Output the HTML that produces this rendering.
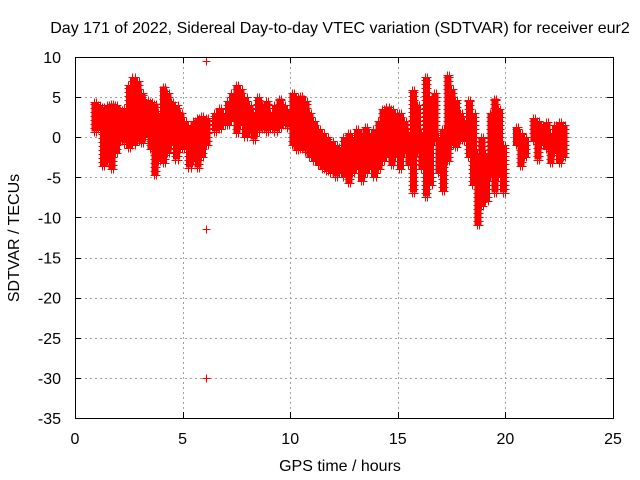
<!DOCTYPE html>
<html><head><meta charset="utf-8"><style>
html,body{margin:0;padding:0;background:#fff;}
svg{display:block;font-family:"Liberation Sans",sans-serif;font-size:16px;}
</style></head><body>
<svg id="chart" width="640" height="480" xmlns="http://www.w3.org/2000/svg">
<text x="340" y="33" text-anchor="middle">Day 171 of 2022, Sidereal Day-to-day VTEC variation (SDTVAR) for receiver eur2</text>
<text x="340" y="471" text-anchor="middle">GPS time / hours</text>
<text transform="translate(19,238) rotate(-90)" text-anchor="middle">SDTVAR / TECUs</text>
<g id="grid" shape-rendering="crispEdges"></g>
<g id="axes"></g>
<g id="marks" shape-rendering="crispEdges"></g>
<rect x="75.5" y="57.5" width="538" height="361" fill="none" stroke="#000" shape-rendering="crispEdges"/>
</svg>
<script>
const xTicks = [0,5,10,15,20,25];
const yTicks = [10,5,0,-5,-10,-15,-20,-25,-30,-35];
const hours = [0.9,1.1,1.3,1.5,1.7,1.9,2.1,2.3,2.5,2.7,2.9,3.1,3.3,3.5,3.7,3.9,4.1,4.3,4.5,4.7,4.9,5.1,5.3,5.5,5.7,5.9,6.1,6.5,6.7,6.9,7.1,7.3,7.5,7.7,7.9,8.1,8.3,8.5,8.7,8.9,9.1,9.3,9.5,9.7,9.9,10.1,10.3,10.5,10.7,10.9,11.1,11.3,11.5,11.7,11.9,12.1,12.3,12.5,12.7,12.9,13.1,13.3,13.5,13.7,13.9,14.1,14.3,14.5,14.7,14.9,15.1,15.3,15.5,15.7,15.9,16.1,16.3,16.5,16.7,16.9,17.1,17.3,17.5,17.7,17.9,18.1,18.3,18.5,18.7,18.9,19.1,19.3,19.5,19.7,19.9,20.5,20.7,20.9,21.3,21.5,21.7,21.9,22.1,22.3,22.5,22.7];
const highVals = [4.4,4.0,3.8,4.0,4.2,4.0,3.4,3.6,6.5,7.5,7.0,5.5,4.6,4.4,4.2,3.0,6.3,5.5,4.4,4.0,3.0,2.0,1.5,2.0,2.4,2.6,2.4,3.0,3.6,3.0,4.5,5.5,6.5,6.0,5.0,4.0,3.0,5.0,4.0,4.5,3.0,4.0,4.8,4.0,3.5,5.5,5.0,5.2,4.5,3.0,2.0,1.0,0.5,0.0,-0.5,-1.0,-1.2,0.0,0.5,0.0,1.0,0.5,1.3,0.5,1.0,2.0,3.5,3.8,3.5,3.0,3.0,2.0,0.5,5.9,4.0,0.5,7.5,5.0,5.5,0.0,1.0,7.7,6.0,4.6,3.0,2.0,4.6,3.0,-2.0,0.0,-2.0,3.0,4.8,3.5,-1.0,1.3,0.5,0.0,2.4,2.0,1.5,1.9,0.5,1.5,1.9,1.5];
const lowVals = [0.7,1.0,-3.6,-3.0,-4.0,-2.0,-0.5,-0.8,-1.4,-1.0,-0.5,-0.7,0.0,-1.5,-4.7,-3.0,-3.2,-2.0,-1.0,-2.8,-1.5,-1.5,-3.8,-3.0,-3.8,-2.5,-1.0,0.7,1.0,1.5,1.5,2.0,0.5,1.5,0.0,0.5,-0.3,0.7,1.0,0.7,1.0,0.7,1.1,1.5,1.2,-1.0,-1.6,-1.5,-1.8,-2.5,-3.0,-3.5,-4.0,-4.2,-4.5,-4.9,-4.5,-5.0,-5.7,-4.5,-4.0,-5.5,-4.5,-4.0,-5.0,-4.0,-3.0,-2.5,-3.5,-2.5,-4.0,-2.0,-3.5,-6.9,-2.0,-4.0,-7.4,-6.0,-0.5,-4.5,-6.7,-3.0,-1.0,-1.2,-0.3,-0.5,-2.5,-6.0,-11.0,-8.6,-8.0,-5.0,-6.9,-5.0,-6.9,-1.0,-3.6,-2.5,-0.5,-2.8,-1.0,-1.5,-3.2,-2.0,-3.2,-2.5];
const outlierHours = [6.1,6.1,6.1];
const outlierVals = [9.5,-11.5,-30];

const NS='http://www.w3.org/2000/svg';
const X0=75,X1=613,Y0=418,Y1=57;
function xs(t){return X0+(t-0)/(25-0)*(X1-X0);}
function ys(v){return Y0-(v+35)/(45)*(Y0-Y1);}
function mk(tag,attrs,parent){const e=document.createElementNS(NS,tag);for(const k in attrs)e.setAttribute(k,attrs[k]);parent.appendChild(e);return e;}
const grid=document.getElementById('grid'),axes=document.getElementById('axes'),marks=document.getElementById('marks');
function px(v){return Math.round(v)+0.5;}
xTicks.forEach(t=>{
  const x=px(xs(t));
  if(t>0&&t<25){const g=mk('line',{x1:x,x2:x,y1:Y1,y2:Y0,stroke:'#a0a0a0','stroke-dasharray':'2,3'},grid);
  
  }
  mk('line',{x1:x,x2:x,y1:Y0,y2:Y0-6,stroke:'#000'},axes);
  mk('line',{x1:x,x2:x,y1:Y1,y2:Y1+6,stroke:'#000'},axes);
  const l=mk('text',{x:xs(t),y:444,'text-anchor':'middle'},axes);l.textContent=t;
  
  
});
yTicks.forEach(v=>{
  const y=px(ys(v));
  if(v<10&&v>-35){const g=mk('line',{x1:X0,x2:X1,y1:y,y2:y,stroke:'#a0a0a0','stroke-dasharray':'2,3'},grid);
  
  }
  mk('line',{x1:X0,x2:X0+6,y1:y,y2:y,stroke:'#000'},axes);
  mk('line',{x1:X1,x2:X1-6,y1:y,y2:y,stroke:'#000'},axes);
  const l=mk('text',{x:61,y:ys(v)+6,'text-anchor':'end'},axes);l.textContent=v;
  
  
});
function plus(d,x,y){x=px(x);y=px(y);return d+'M'+(x-4)+' '+y+'h8M'+x+' '+(y-4)+'v8';}
hours.forEach((t,i)=>{
  let d='';
  const hi=highVals[i],lo=lowVals[i];
  const r=mk('rect',{x:xs(t)-3,y:ys(hi),width:7,height:Math.max(1,ys(lo)-ys(hi)),fill:'#ff0000'},marks);
  
  
  [t-0.03,t+0.07].forEach(tt=>{
    const x=xs(tt);
    for(let v=lo;v<=hi+0.001;v+=0.5){d=plus(d,x,ys(v));}
    d=plus(d,x,ys(hi));
  });
  const p=mk('path',{d:d,stroke:'#ff0000','stroke-width':1,fill:'none'},marks);
  
  
});
outlierHours.forEach((t,i)=>{
  const p=mk('path',{d:plus('',xs(t),ys(outlierVals[i])),stroke:'#ff0000','stroke-width':1,fill:'none'},marks);
  
  
});
</script>
</body></html>
